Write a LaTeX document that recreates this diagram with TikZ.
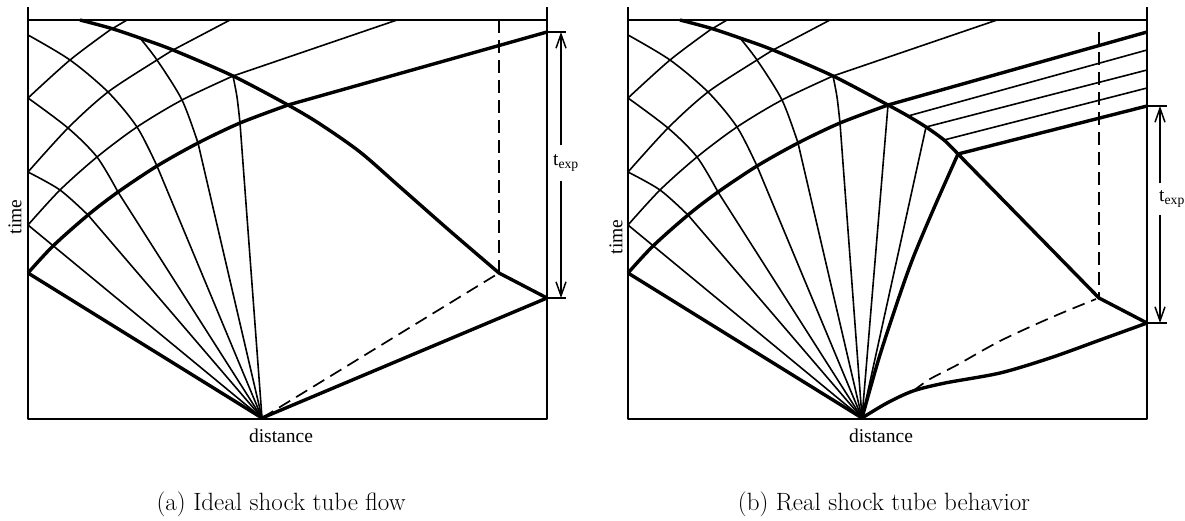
\documentclass[tikz,border=0pt]{standalone}
\usepackage{fontspec}
\newfontfamily\timesfont{Liberation Serif}
\usetikzlibrary{arrows.meta}

\tikzset{
    wave/.style={line width=1.6pt},
    front/.style={line width=3.4pt},
    boxline/.style={line width=1.7pt},
    contact/.style={line width=1.7pt, dash pattern=on 13pt off 7pt},
    dimarrow/.style={line width=1.5pt, -{Straight Barb[length=14pt,width=10pt]}},
    axislabel/.style={font=\timesfont\fontsize{19.5}{22}\selectfont, inner sep=1pt},
    subcaption/.style={font=\fontsize{25}{29}\selectfont, inner sep=0pt}
}

\begin{document}
\begin{tikzpicture}[x=1pt, y=-1pt, line join=round]
    \useasboundingbox (0,0) rectangle (1185,520);

    % Shared by both panels: frame, expansion fan and its reflection
    \foreach \sx in {0,600} {
        \begin{scope}[xshift=\sx pt]
            \coordinate (diaph) at (262,418);
            \draw[boxline] (28,7) -- (28,419) -- (547,419) -- (547,7);
            \draw[boxline] (28,20) -- (547,20);
            % Head of the fan and its reflection
            \draw[front] (diaph) -- (28,273);
            \draw[front] plot[smooth] coordinates {(28,273) (53,246) (88,215) (118,192)
                (157,166) (198,143) (240,123) (288,105)} -- (547,32);
            % Incident fan lines
            \draw[wave] (diaph) -- (28,225);
            \draw[wave] plot[smooth] coordinates {(28,172) (60,190) (88,215)} -- (diaph);
            \draw[wave] plot[smooth] coordinates {(28,98) (68,128) (97,157) (118,192)} -- (diaph);
            \draw[wave] plot[smooth] coordinates {(28,35) (70,60) (108,92) (137,127) (157,166)} -- (diaph);
            \draw[wave] plot[smooth] coordinates {(140,38) (157,60) (182,100) (198,143)} -- (diaph);
            \draw[wave] plot[smooth] coordinates {(233,76) (237,97) (240,123)} -- (diaph);
            % Reflected fan lines
            \draw[wave] plot[smooth] coordinates {(28,225) (60,190) (97,157) (137,127) (182,100) (233,76)} -- (397,20);
            \draw[wave] plot[smooth] coordinates {(28,172) (68,128) (108,92) (157,60) (173,50)} -- (230,20);
            \draw[wave] plot[smooth] coordinates {(28,98) (70,60) (110,30)} -- (127,20);
            \node[axislabel] (dist) at (281,436) {distance};
        \end{scope}
    }

    % Ideal shock tube flow
    \begin{scope}
        \coordinate (diaph) at (262,418);
        \coordinate (kink) at (499,273);
        \coordinate (shockend) at (547,298);
        \node[axislabel, rotate=90] (timeA) at (15,217) {time};
        % Reflected shock
        \draw[front] plot[smooth] coordinates {(80,20) (110,28) (140,38) (173,50) (233,76) (288,105)
            (320,124) (360,152) (400,187) (450,231) (499,273)} -- (shockend);
        % Incident shock and contact surface
        \draw[front] (diaph) -- (shockend);
        \draw[contact] (diaph) -- (kink);
        \draw[contact] (499,20) -- (kink);
        % Test time
        \coordinate (ttop) at (561,32);
        \coordinate (tbot) at (561,298);
        \draw[wave] (547,32) -- (566,32) (shockend) -- (566,298);
        \node[axislabel, inner ysep=9pt] (texpA) at (566,163) {t\textsubscript{exp}};
        \draw[dimarrow] (ttop |- texpA.north) -- (ttop);
        \draw[dimarrow] (tbot |- texpA.south) -- (tbot);
    \end{scope}

    % Real shock tube behavior
    \begin{scope}[xshift=600pt]
        \coordinate (diaph) at (262,418);
        \coordinate (kink) at (499,298);
        \coordinate (shockend) at (547,323);
        \coordinate (tail) at (358,154);
        \node[axislabel, rotate=90] (timeB) at (16,237) {time};
        % Rest of the fan up to the reflected shock
        \draw[wave] (diaph) -- (288,105);
        \draw[wave] (diaph) -- (326,127);
        \draw[front] plot[smooth] coordinates {(262,418) (279,358) (298,300) (313,258) (334,208) (358,154)};
        % Reflected shock
        \draw[front] plot[smooth] coordinates {(80,20) (110,28) (140,38) (173,50) (233,76) (288,105)
            (308,116) (326,127) (344,140) (358,154)} -- (kink) -- (shockend);
        % Waves passed through the reflected shock
        \foreach \x/\y/\e in {308/116/50, 326/127/70, 344/140/88} {
            \draw[wave] (\x,\y) -- (547,\e);
        }
        \draw[front] (tail) -- (547,106);
        % Decelerating shock and contact surface
        \draw[front] plot[smooth] coordinates {(262,418) (287,403) (313,391) (345,383)
            (400,373) (450,358) (500,340) (547,323)};
        \draw[contact] plot[smooth] coordinates {(313,391) (330,379) (357,365) (400,341)
            (450,318) (496,299)};
        \draw[contact] (499,32) -- (kink);
        % Test time
        \coordinate (ttop) at (560,106);
        \coordinate (tbot) at (560,323);
        \draw[wave] (547,106) -- (567,106) (shockend) -- (567,323);
        \node[axislabel, inner ysep=7pt] (texpB) at (572,199) {t\textsubscript{exp}};
        \draw[dimarrow] (ttop |- texpB.north) -- (ttop);
        \draw[dimarrow] (tbot |- texpB.south) -- (tbot);
    \end{scope}

    % Captions
    \node[subcaption, anchor=base] (capA) at (281,510) {(a) Ideal shock tube flow};
    \node[subcaption, anchor=base] (capB) at (884,510) {(b) Real shock tube behavior};
\end{tikzpicture}
\end{document}
